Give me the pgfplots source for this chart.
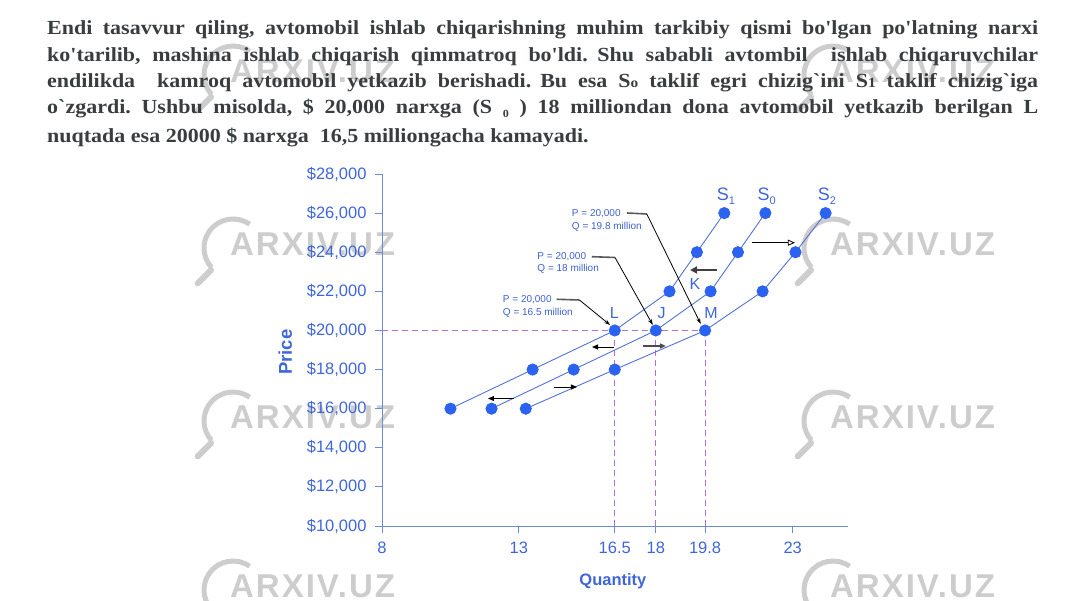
\documentclass[border=0pt]{standalone}
\usepackage{fontspec}
\setmainfont{Liberation Sans}
\newfontfamily\paraf{Liberation Serif}[FakeStretch=1.1]
\newfontfamily\wmf{Liberation Sans}[LetterSpace=6]
\usepackage{pgfplots}
\pgfplotsset{compat=1.18}
\usetikzlibrary{arrows.meta}
\definecolor{tickblue}{HTML}{3F66D9}
\definecolor{markblue}{HTML}{2B63F0}
\definecolor{lineblue}{HTML}{5272D8}
\definecolor{axisblue}{HTML}{6A8BE0}
\definecolor{dashpurple}{HTML}{B070DC}
\definecolor{txtgray}{HTML}{3A3D40}
\definecolor{wmgray}{HTML}{CDCDCD}
\definecolor{annblue}{HTML}{3E5FD0}

\newcommand{\sm}[1]{{\fontsize{14}{14}\selectfont #1}}
% watermark: circle centre x, y in pixels (y downwards)
\newcommand{\wm}[2]{%
  \draw[wmgray, line width=5pt] (#1pt,-#2pt) ++(55:29pt) arc[start angle=55, end angle=222, radius=29pt];
  \draw[wmgray, line width=6pt, line cap=round] (#1pt,-#2pt) ++(225:31pt) -- ++(225:19pt);
  \node[wmgray, anchor=west, inner sep=0, font=\wmf\bfseries\fontsize{33}{33}\selectfont] at (#1pt-3pt,-#2pt+4pt) {ARXIV.UZ};
}

\begin{document}
\frenchspacing
\begin{tikzpicture}
\useasboundingbox (0,0) rectangle (1067pt,-600pt);

\foreach \r in {75,248,421,590} {
  \wm{233}{\r}
  \wm{833}{\r}
}

\tikzset{para/.style={anchor=base west, inner sep=0, text=txtgray, font=\paraf\bfseries\fontsize{20}{24}\selectfont}}
\node[para] at (47pt,-34pt) {\makebox[991pt][s]{Endi tasavvur qiling, avtomobil ishlab chiqarishning muhim tarkibiy qismi bo'lgan po'latning narxi}};
\node[para] at (47pt,-61.7pt) {\makebox[991pt][s]{ko'tarilib, mashina ishlab chiqarish qimmatroq bo'ldi.\hspace{-2pt} Shu sababli avtombil\ \ ishlab chiqaruvchilar}};
\node[para] at (47pt,-87.3pt) {\makebox[991pt][s]{endilikda\ \ kamroq avtomobil yetkazib berishadi.\hspace{-2pt} Bu esa S\sm{o} taklif egri chizig`ini S\sm{1} taklif chizig`iga}};
\node[para] at (47pt,-113.3pt) {\makebox[991pt][s]{o`zgardi. Ushbu misolda, \$ 20,000 narxga (S \raisebox{-4pt}{\fontsize{11}{11}\selectfont 0} ) 18 milliondan dona avtomobil yetkazib berilgan L}};
\node[para] at (47pt,-142.7pt) {nuqtada esa 20000 \$ narxga\ \ 16,5 milliongacha kamayadi.};

\begin{axis}[
  at={(382pt,-526pt)}, anchor=south west,
  scale only axis, width=465.5pt, height=352pt,
  xmin=8, xmax=25, ymin=10000, ymax=28000,
  scaled y ticks=false,
  axis lines*=left,
  axis line style={axisblue, line width=0.9pt},
  tick align=outside, major tick length=7pt,
  tick style={axisblue, line width=0.9pt},
  xtick={8,13,16.5,18,19.8,23},
  xticklabels={8,13,16.5,18,19.8,23},
  ytick={10000,12000,14000,16000,18000,20000,22000,24000,26000,28000},
  yticklabels={{\$10,000},{\$12,000},{\$14,000},{\$16,000},{\$18,000},{\$20,000},{\$22,000},{\$24,000},{\$26,000},{\$28,000}},
  ticklabel style={font=\fontsize{16.5}{17}\selectfont, text=tickblue},
  yticklabel style={xshift=-5pt},
  xticklabel style={yshift=-5pt},
  xlabel={Quantity}, ylabel={Price},
  label style={font=\bfseries\fontsize{16.5}{17}\selectfont, text=tickblue},
  xlabel style={at={(axis description cs:0.496,0)}, anchor=center, yshift=-55pt},
  ylabel style={at={(axis description cs:-0.208,0.494)}, anchor=center, font=\bfseries\fontsize{18.5}{19}\selectfont},
  clip=false,
]
% reference dashes
\addplot[dashpurple, line width=1pt, dash pattern=on 6pt off 4pt] coordinates {(8,20000) (19.8,20000)};
\addplot[dashpurple, line width=1pt, dash pattern=on 6pt off 4pt] coordinates {(16.5,20000) (16.5,10000)};
\addplot[dashpurple, line width=1pt, dash pattern=on 6pt off 4pt] coordinates {(18,20000) (18,10000)};
\addplot[dashpurple, line width=1pt, dash pattern=on 6pt off 4pt] coordinates {(19.8,20000) (19.8,10000)};

% S1
\addplot[lineblue, line width=0.9pt, mark=*, mark size=5.6pt, mark options={draw=markblue, fill=markblue}] coordinates {
  (10.5,16000) (13.5,18000) (16.5,20000) (18.5,22000) (19.5,24000) (20.5,26000)};
% S0
\addplot[lineblue, line width=0.9pt, mark=*, mark size=5.6pt, mark options={draw=markblue, fill=markblue}] coordinates {
  (12,16000) (15,18000) (18,20000) (20,22000) (21,24000) (22,26000)};
% S2
\addplot[lineblue, line width=0.9pt, mark=*, mark size=5.6pt, mark options={draw=markblue, fill=markblue}] coordinates {
  (13.25,16000) (16.5,18000) (19.8,20000) (21.9,22000) (23.1,24000) (24.2,26000)};

% curve names
\node[anchor=base west, inner sep=0, text=tickblue, font=\fontsize{18}{18}\selectfont] at (axis cs:20.22,26620) {S\raisebox{-4pt}{\fontsize{11}{11}\selectfont 1}};
\node[anchor=base west, inner sep=0, text=tickblue, font=\fontsize{18}{18}\selectfont] at (axis cs:21.71,26620) {S\raisebox{-4pt}{\fontsize{11}{11}\selectfont 0}};
\node[anchor=base west, inner sep=0, text=tickblue, font=\fontsize{18}{18}\selectfont] at (axis cs:23.91,26620) {S\raisebox{-4pt}{\fontsize{11}{11}\selectfont 2}};

% point letters
\node[text=tickblue, font=\fontsize{16}{16}\selectfont] at (axis cs:16.48,20908) {L};
\node[text=tickblue, font=\fontsize{16}{16}\selectfont] at (axis cs:18.21,20908) {J};
\node[text=tickblue, font=\fontsize{16}{16}\selectfont] at (axis cs:19.43,22361) {K};
\node[text=tickblue, font=\fontsize{16}{16}\selectfont] at (axis cs:20.02,20908) {M};

% callouts
\tikzset{ann/.style={anchor=west, inner sep=0, text=annblue, font=\fontsize{10}{10}\selectfont}}
\node[ann] at (axis cs:14.93,25992) {P = 20,000};
\node[ann] at (axis cs:14.93,25276) {Q = 19.8 million};
\node[ann] at (axis cs:13.67,23772) {P = 20,000};
\node[ann] at (axis cs:13.67,23128) {Q = 18 million};
\node[ann] at (axis cs:12.41,21594) {P = 20,000};
\node[ann] at (axis cs:12.41,20908) {Q = 16.5 million};

\draw[black!65, line width=1.6pt] (axis cs:16.94,26007) -- (axis cs:17.67,25956);
\draw[black, line width=0.8pt, -{Stealth[length=6pt,width=4pt]}] (axis cs:17.67,25956) -- (axis cs:19.64,20330);
\draw[black!65, line width=1.6pt] (axis cs:15.66,23772) -- (axis cs:16.51,23731);
\draw[black, line width=0.8pt, -{Stealth[length=6pt,width=4pt]}] (axis cs:16.51,23731) -- (axis cs:17.89,20279);
\draw[black!65, line width=1.6pt] (axis cs:14.38,21594) -- (axis cs:15.21,21558);
\draw[black, line width=0.8pt, -{Stealth[length=6pt,width=4pt]}] (axis cs:15.21,21558) -- (axis cs:16.33,20279);

% shift arrows
\draw[black, line width=0.9pt, -{Triangle[length=6pt,width=5pt]}] (axis cs:16.47,19154) -- (axis cs:15.67,19154);
\draw[black!70, line width=1.4pt, -{Triangle[length=6pt,width=5pt]}] (axis cs:17.53,19205) -- (axis cs:18.37,19205);
\draw[black, line width=0.9pt, -{Triangle[length=6pt,width=5pt]}] (axis cs:12.82,16520) -- (axis cs:11.87,16520);
\draw[black, line width=0.9pt, -{Triangle[length=6pt,width=5pt]}] (axis cs:14.28,17108) -- (axis cs:15.12,17108);
\draw[black!75, line width=2pt, -{Triangle[length=7pt,width=7pt]}] (axis cs:20.24,23092) -- (axis cs:19.25,23092);
\draw[black, line width=0.8pt, -{Triangle[open,length=7pt,width=6pt]}] (axis cs:21.51,24488) -- (axis cs:23.08,24488);
\end{axis}
\end{tikzpicture}
\end{document}
